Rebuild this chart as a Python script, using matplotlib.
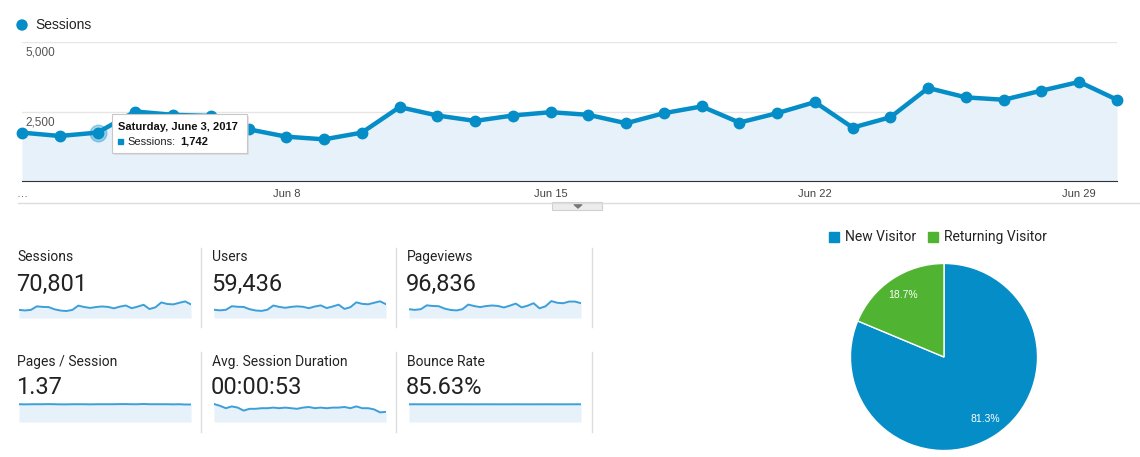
import numpy as np
import matplotlib
matplotlib.use("Agg")
from matplotlib import pyplot as plt
from matplotlib.patches import Rectangle, Circle, Polygon

plt.rcParams['font.family'] = ['Roboto', 'DejaVu Sans']

# daily data, June 1 - 30 2017
days = np.arange(30)
sessions = [1740, 1619, 1742, 2500, 2380, 2340, 1860, 1595, 1498, 1740,
            2658, 2356, 2162, 2356, 2476, 2380, 2078, 2440, 2682, 2102,
            2440, 2839, 1921, 2295, 3346, 3008, 2923, 3250, 3564, 2923]
users = [1480, 1370, 1470, 2110, 2010, 1980, 1580, 1350, 1270, 1480,
         2240, 1990, 1830, 1990, 2090, 2010, 1760, 2060, 2260, 1780,
         2060, 2390, 1630, 1940, 2810, 2530, 2460, 2730, 2990, 2470]
pageviews = [2380, 2200, 2390, 3430, 3260, 3200, 2550, 2180, 2050, 2380,
             3640, 3230, 2960, 3230, 3390, 3260, 2850, 3340, 3900, 2880,
             3340, 4000, 2630, 3150, 4580, 4120, 4000, 4450, 4450, 4000]
pages_per_session = [1.37, 1.36, 1.37, 1.37, 1.37, 1.38, 1.37, 1.36, 1.36, 1.37,
                     1.37, 1.37, 1.36, 1.37, 1.37, 1.37, 1.37, 1.38, 1.38, 1.37,
                     1.37, 1.39, 1.37, 1.37, 1.37, 1.37, 1.36, 1.37, 1.35, 1.35]
avg_duration = [60, 57, 53, 56, 54, 49, 52, 52, 53, 53, 54, 53, 54, 53, 52,
                54, 55, 53, 54, 53, 54, 54, 55, 53, 56, 53, 53, 51, 46, 47]
bounce_rate = [85.6, 85.7, 85.6, 85.6, 85.5, 85.6, 85.7, 85.6, 85.6, 85.7,
               85.6, 85.6, 85.6, 85.7, 85.6, 85.6, 85.6, 85.6, 85.7, 85.6,
               85.6, 85.6, 85.6, 85.7, 85.6, 85.6, 85.6, 85.6, 85.7, 85.7]

tick_days = [0, 7, 14, 21, 28]
tick_labels = ['…', 'Jun 8', 'Jun 15', 'Jun 22', 'Jun 29']
y_ticks = [2500, 5000]

metric_names = ['Sessions', 'Users', 'Pageviews',
                'Pages / Session', 'Avg. Session Duration', 'Bounce Rate']
metric_values = ['70,801', '59,436', '96,836', '1.37', '00:00:53', '85.63%']
metric_series = [sessions, users, pageviews, pages_per_session, avg_duration, bounce_rate]
spark_ylims = [(0, 5150), (0, 4300), (0, 6500), (0, 1.85), (30, 70), (0, 116)]

visitor_types = ['New Visitor', 'Returning Visitor']
visitor_share = [81.3, 18.7]

BLUE = '#058dc7'
GREEN = '#50b432'
FILL = '#e6f1f9'
W, H = 1140, 457

fig = plt.figure(figsize=(W / 100, H / 100), dpi=100)


def px_axes(x0, y0, x1, y1):
    return fig.add_axes([x0 / W, 1 - y1 / H, (x1 - x0) / W, (y1 - y0) / H])


# main sessions chart
ax = px_axes(22, 42, 1117, 181)
ax.fill_between(days, sessions, 0, color=FILL, lw=0)
ax.plot(days, sessions, color=BLUE, lw=3.2, marker='o', ms=7.5, clip_on=False, zorder=3)
ax.plot(days[2], sessions[2], 'o', color=BLUE, ms=12, alpha=0.35, zorder=3, clip_on=False)
ax.set_xlim(0, 29)
ax.set_ylim(0, 5000)
ax.set_xticks(tick_days)
ax.set_xticklabels(tick_labels, fontsize=8, color='#444', family=['Liberation Sans', 'DejaVu Sans'])
ax.tick_params(axis='x', length=0, pad=6)
ax.set_yticks(y_ticks)
ax.tick_params(axis='y', length=0, labelleft=False)
ax.grid(axis='y', color='#e6e6e6', lw=1)
ax.set_axisbelow(True)
for s in ['top', 'left', 'right']:
    ax.spines[s].set_visible(False)
ax.spines['bottom'].set_color('#333')
ax.spines['bottom'].set_zorder(4)
ax.patch.set_visible(False)
for v in y_ticks:
    ax.annotate(f'{v:,}', (0, v), xycoords=ax.get_yaxis_transform(), xytext=(2.5, -3.5),
                textcoords='offset points', va='top', ha='left', fontsize=8.5, color='#555',
                family='Liberation Sans')

# sparklines
col_x = [19, 214, 409]
row_y = [(294, 318), (398, 422)]
for i, vals in enumerate(metric_series):
    r, c = divmod(i, 3)
    sp = px_axes(col_x[c], row_y[r][0], col_x[c] + 172, row_y[r][1])
    lo, hi = spark_ylims[i]
    sp.fill_between(days, vals, lo, color=FILL, lw=0)
    sp.plot(days, vals, color='#3d9fd9', lw=1.4)
    sp.set_xlim(0, 29)
    sp.set_ylim(lo, hi)
    sp.axis('off')

# pie
pa = px_axes(850, 263, 1038, 451)
wedges, texts, autotexts = pa.pie(visitor_share, colors=[BLUE, GREEN], startangle=90,
                                  counterclock=False, autopct='%.1f%%', pctdistance=0.79,
                                  wedgeprops=dict(edgecolor='white', linewidth=1),
                                  textprops=dict(color='white', fontsize=7.5,
                                                 family='Liberation Sans'))
pa.set_xlim(-1.005, 1.005)
pa.set_ylim(-1.005, 1.005)
pa.set_aspect('equal')

# overlay for text, separators and tooltip
ov = fig.add_axes([0, 0, 1, 1], zorder=10)
ov.set_xlim(0, W)
ov.set_ylim(H, 0)
ov.axis('off')

# top legend
ov.add_patch(Circle((22, 25), 5, color=BLUE))
ov.text(35, 25, 'Sessions', fontsize=10, color='#222', va='center',
        family=['Liberation Sans', 'DejaVu Sans'])

# underline + drawer tab
ov.plot([18, 1140], [202.5, 202.5], color='#dcdcdc', lw=1)
ov.add_patch(Rectangle((552, 202), 50, 8, facecolor='#ececec', edgecolor='#d0d0d0', lw=0.8))
ov.add_patch(Polygon([(574, 204.5), (582, 204.5), (578, 208)], color='#777'))

# tooltip
ov.add_patch(Rectangle((113.5, 115.5), 135, 39, facecolor='#cfcfcf', edgecolor='none', alpha=0.5))
ov.add_patch(Rectangle((112, 114), 135, 39, facecolor='white', edgecolor='#c8c8c8', lw=0.8))
ov.text(118, 127, 'Saturday, June 3, 2017', fontsize=8, weight='bold', color='#111',
        va='center', family='Liberation Sans')
ov.add_patch(Rectangle((118, 139), 5, 5, color=BLUE))
ov.text(127, 142, 'Sessions:', fontsize=8, color='#222', va='center', family='Liberation Sans')
ov.text(180, 142, f'{sessions[2]:,}', fontsize=8, weight='bold', color='#111', va='center',
        family='Liberation Sans')

# metric tiles
label_y = [257, 362]
value_y = [284, 388]
for i, name in enumerate(metric_names):
    r, c = divmod(i, 3)
    ov.text(col_x[c] - 2, label_y[r], name, fontsize=10, color='#222', va='center')
    ov.text(col_x[c] - 3, value_y[r], metric_values[i], fontsize=17, color='#222', va='center')
for sx in [201, 396, 592]:
    ov.plot([sx, sx], [248, 327], color='#dddddd', lw=1)
    ov.plot([sx, sx], [352, 432], color='#dddddd', lw=1)

# pie legend
leg_x = [829, 928]
for lx, name, col in zip(leg_x, visitor_types, [BLUE, GREEN]):
    ov.add_patch(Rectangle((lx, 232), 10, 10, color=col))
    ov.text(lx + 16, 237, name, fontsize=10, color='#222', va='center')

fig.savefig('out.png', dpi=100)
